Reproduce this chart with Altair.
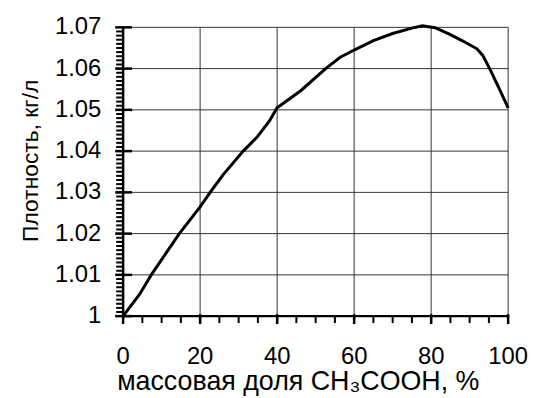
import altair as alt
import pandas as pd

# Curve (mass fraction of acetic acid, %; density, kg/l)
frac = [0, 2, 4.3, 7.3, 10, 14.6, 20, 22.6, 26, 31.2, 34.8, 38, 40, 46.2, 52.6,
        56.3, 60, 65, 70, 75, 77.7, 81, 84.6, 88, 91.9, 93.4, 95.2, 97.5, 100]
dens = [1.0, 1.0025, 1.0053, 1.0100, 1.0137, 1.0200, 1.0265, 1.0300, 1.0343, 1.0400,
        1.0434, 1.0473, 1.0505, 1.0547, 1.0600, 1.0627, 1.0645, 1.0668, 1.0685,
        1.0698, 1.0704, 1.0699, 1.0684, 1.0668, 1.0648, 1.0632, 1.0600, 1.0555, 1.0505]

x_major = [0, 20, 40, 60, 80, 100]
x_labels = ["0", "20", "40", "60", "80", "100"]
y_major = [1.0, 1.01, 1.02, 1.03, 1.04, 1.05, 1.06, 1.07]
y_labels = ["1", "1.01", "1.02", "1.03", "1.04", "1.05", "1.06", "1.07"]
x_minor = [5 * i for i in range(1, 20)]
y_minor = [round(1.0 + 0.001 * i, 3) for i in range(1, 70)]

x_title = "массовая доля CH₃COOH, %"
y_title = "Плотность, кг/л"

W, H = 388, 291
FONT = "Liberation Sans"
X0, X1, Y0, Y1 = 0, 100, 1.0, 1.07
PX_X = (X1 - X0) / W   # data units per pixel along x
PX_Y = (Y1 - Y0) / H   # data units per pixel along y

xs = alt.Scale(domain=[X0, X1], nice=False, zero=False)
ys = alt.Scale(domain=[Y0, Y1], nice=False, zero=False)
X = alt.X("x:Q", scale=xs, axis=None)
Y = alt.Y("y:Q", scale=ys, axis=None)

df = pd.DataFrame({"x": frac, "y": dens})
xmaj_df = pd.DataFrame({"x": x_major, "lab": x_labels})
ymaj_df = pd.DataFrame({"y": y_major, "lab": y_labels})
dom_df = pd.DataFrame({"x": [0], "y": [1.0]})

# Tick and axis-line segments (two end points per segment, grouped by "seg")
rows = []
def seg(name, pts):
    for (px, py) in pts:
        rows.append({"seg": name, "x": px, "y": py})

seg("xdom", [(X0 - PX_X, Y0), (X1 + PX_X, Y0)])
seg("ydom", [(X0, Y0 - PX_Y), (X0, Y1 + PX_Y)])
for v in x_major:
    seg(f"xM{v}", [(v, Y0 + 2 * PX_Y), (v, Y0 - 8 * PX_Y)])
for v in x_minor:
    seg(f"xm{v}", [(v, Y0), (v, Y0 - 7 * PX_Y)])
for v in y_major:
    seg(f"yM{v}", [(X0 - 8 * PX_X, v), (X0 + 9 * PX_X, v)])
for v in y_minor:
    seg(f"ym{v}", [(X0 - 7 * PX_X, v), (X0, v)])
seg_df = pd.DataFrame(rows)
seg_df["w"] = ["thick" if (s.startswith("xM") or s.startswith("yM") or "dom" in s) else "thin"
               for s in seg_df["seg"]]

x_grid = alt.Chart(xmaj_df).mark_rule(color="#333", strokeWidth=1).encode(
    x=X, y=alt.value(0), y2=alt.value(H))
y_grid = alt.Chart(ymaj_df).mark_rule(color="#333", strokeWidth=1).encode(
    y=Y, x=alt.value(0), x2=alt.value(W))

line = alt.Chart(df).mark_line(color="#000", strokeWidth=3).encode(x=X, y=Y)

ticks_thick = alt.Chart(seg_df[seg_df["w"] == "thick"]).mark_line(
    color="#000", strokeWidth=2.5, strokeCap="butt").encode(
    x=X, y=Y, detail="seg:N")
ticks_thin = alt.Chart(seg_df[seg_df["w"] == "thin"]).mark_line(
    color="#000", strokeWidth=2, strokeCap="butt").encode(
    x=X, y=Y, detail="seg:N")

x_tick_labels = alt.Chart(xmaj_df).mark_text(
    font=FONT, fontSize=24, color="#000", align="center", baseline="top").encode(
    x=X, y=alt.value(H + 29), text=alt.Text("lab:N"))
y_tick_labels = alt.Chart(ymaj_df).mark_text(
    font=FONT, fontSize=24, color="#000", align="right", baseline="middle").encode(
    y=Y, x=alt.value(-22), text=alt.Text("lab:N"))

x_title_mark = alt.Chart(dom_df).mark_text(
    font=FONT, fontSize=27, color="#000", align="center", baseline="alphabetic").encode(
    x=alt.value(176.5), y=alt.value(H + 74.7), text=alt.value(x_title))
y_title_mark = alt.Chart(dom_df).mark_text(
    font=FONT, fontSize=23, color="#000", align="center", baseline="alphabetic",
    angle=270).encode(
    x=alt.value(-85.7), y=alt.value(134.5), text=alt.value(y_title))

chart = alt.layer(
    x_grid, y_grid, line, ticks_thick, ticks_thin,
    x_tick_labels, y_tick_labels, x_title_mark, y_title_mark,
).properties(
    width=W, height=H,
    autosize=alt.AutoSizeParams(type="none"),
    padding={"left": 116, "top": 18, "right": 20, "bottom": 81},
).configure(background="#fff", view=alt.ViewConfig(stroke=None))

chart.save("out.html", embed_options={"renderer": "svg", "actions": False})
